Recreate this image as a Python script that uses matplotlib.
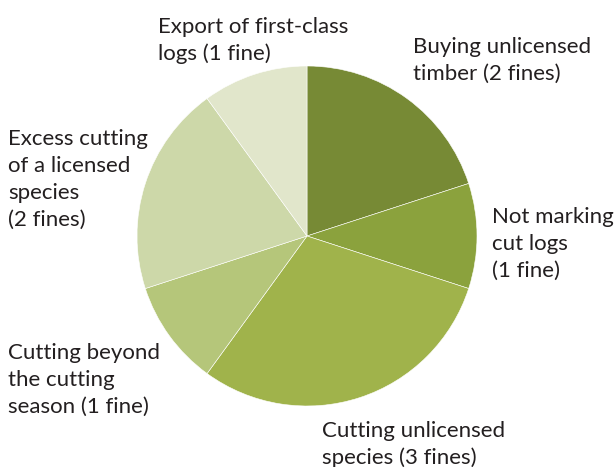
import matplotlib.pyplot as plt

# fines per violation type, clockwise from 12 o'clock
labels = [
    "Buying unlicensed\ntimber (2 fines)",
    "Not marking\ncut logs\n(1 fine)",
    "Cutting unlicensed\nspecies (3 fines)",
    "Cutting beyond\nthe cutting\nseason (1 fine)",
    "Excess cutting\nof a licensed\nspecies\n(2 fines)",
    "Export of first-class\nlogs (1 fine)",
]
fines = [2, 1, 3, 1, 2, 1]
colors = ["#778a35", "#8ba23d", "#a0b34b", "#b5c67a", "#cdd8a9", "#e1e6cb"]

# label anchor: left x, baseline of first line (pixels from top)
label_pos = [(413, 53), (492, 223), (322, 437), (8, 359), (8, 145), (158, 33)]
line_h = 27.0

W, H = 614, 467
fig = plt.figure(figsize=(W / 100, H / 100), dpi=100)
ax = fig.add_axes([0, 0, 1, 1])

ax.pie(fines, colors=colors, startangle=90, counterclock=False,
       center=(307, H - 236), radius=170,
       wedgeprops=dict(edgecolor="white", linewidth=0.4))
ax.set_xlim(0, W)
ax.set_ylim(0, H)
ax.set_aspect("equal")
ax.axis("off")

for lab, (x, y) in zip(labels, label_pos):
    for i, line in enumerate(lab.split("\n")):
        ax.text(x, H - (y + i * line_h), line, fontsize=16, family="Lato",
                color="#231f20", ha="left", va="baseline")

fig.savefig("out.png", dpi=100)
